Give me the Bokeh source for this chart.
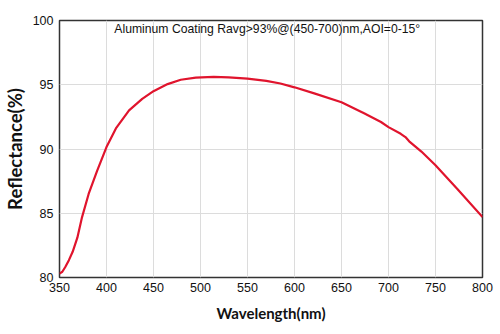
from bokeh.plotting import figure
from bokeh.models import Label, FixedTicker, Range1d
from bokeh.embed import file_html
from bokeh.resources import INLINE

wavelength = [350, 353, 356, 360, 364, 369, 374, 381, 390, 400, 410, 424, 438, 450, 465,
              479, 495, 514, 530, 550, 570, 585, 600, 621, 650, 674, 692, 700, 713, 718,
              722, 735, 750, 773, 800]
reflectance = [80.3, 80.45, 80.8, 81.35, 82.0, 83.1, 84.7, 86.5, 88.3, 90.15, 91.6, 93.0,
               93.9, 94.5, 95.05, 95.39, 95.55, 95.62, 95.58, 95.47, 95.3, 95.1, 94.8, 94.33,
               93.64, 92.78, 92.1, 91.7, 91.18, 90.93, 90.6, 89.8, 88.73, 86.9, 84.7]
x_ticks = [350, 400, 450, 500, 550, 600, 650, 700, 750, 800]
y_ticks = [80, 85, 90, 95, 100]
title_text = "Aluminum Coating Ravg>93%@(450-700)nm,AOI=0-15°"

p = figure(width=500, height=334, output_backend="svg", toolbar_location=None,
           x_range=Range1d(350, 800), y_range=Range1d(80, 100),
           min_border_left=59, min_border_right=18, min_border_top=20, min_border_bottom=57)
p.background_fill_color = "white"
p.border_fill_color = "white"
p.outline_line_color = "#333333"
p.outline_line_width = 1.5

p.line(wavelength, reflectance, line_color="#e0142d", line_width=2.2)

for ax in (p.xaxis[0], p.yaxis[0]):
    ax.major_tick_line_color = None
    ax.minor_tick_line_color = None
    ax.major_tick_out = 0
    ax.major_tick_in = 0
    ax.minor_tick_out = 0
    ax.axis_line_color = None
    ax.major_label_text_font = "Liberation Sans"
    ax.major_label_text_font_size = "12.5px"
    ax.major_label_text_color = "#111111"
    ax.axis_label_text_font = "Lato"
    ax.axis_label_text_font_style = "bold"
    ax.axis_label_text_color = "#111111"

p.xaxis[0].ticker = FixedTicker(ticks=x_ticks)
p.yaxis[0].ticker = FixedTicker(ticks=y_ticks)
p.xaxis[0].major_label_standoff = 5
p.yaxis[0].major_label_standoff = 6

p.yaxis[0].axis_label = "Reflectance(%)"
p.yaxis[0].axis_label_text_font_size = "18.5px"
p.yaxis[0].axis_label_standoff = 4

p.xaxis[0].axis_label = "Wavelength(nm)"
p.xaxis[0].axis_label_text_font_size = "15px"
p.xaxis[0].axis_label_standoff = 9

p.xgrid.ticker = FixedTicker(ticks=x_ticks)
p.ygrid.ticker = FixedTicker(ticks=y_ticks)
p.xgrid.grid_line_color = "#dcdcdc"
p.ygrid.grid_line_color = "#dcdcdc"
p.xgrid.grid_line_width = 1
p.ygrid.grid_line_width = 1

p.add_layout(Label(x=571, y=99.35, text=title_text, text_font="Liberation Sans",
                   text_font_size="12.2px", text_align="center", text_baseline="middle",
                   text_color="#111111"))

open("out.html", "w").write(file_html(p, INLINE))
